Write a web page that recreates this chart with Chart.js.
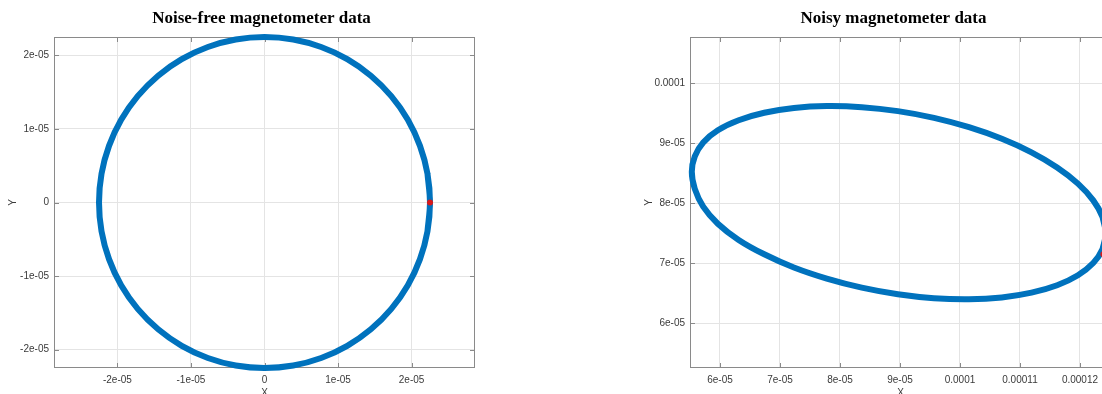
<!DOCTYPE html>
<html>
<head>
<meta charset="utf-8">
<title>Magnetometer data</title>
<script src="https://cdn.jsdelivr.net/npm/chart.js@4.4.0/dist/chart.umd.min.js"></script>
<style>
  html, body { margin: 0; padding: 0; width: 1102px; height: 394px; overflow: hidden; background: #fff; }
  .panel { position: absolute; top: 0; width: 529px; height: 404px; }
  #leftPanel { left: 0; }
  #rightPanel { left: 636px; }
</style>
</head>
<body>
<div class="panel" id="leftPanel"><canvas id="cleanChart"></canvas></div>
<div class="panel" id="rightPanel"><canvas id="noisyChart"></canvas></div>
<script>
// Noise-free samples: field vector traced around the origin (tesla)
const cleanX = [2.25e-5, 2.216e-5, 2.114e-5, 1.949e-5, 1.724e-5, 1.446e-5, 1.125e-5, 0.770e-5, 0.391e-5, 0,
  -0.391e-5, -0.770e-5, -1.125e-5, -1.446e-5, -1.724e-5, -1.949e-5, -2.114e-5, -2.216e-5, -2.25e-5,
  -2.216e-5, -2.114e-5, -1.949e-5, -1.724e-5, -1.446e-5, -1.125e-5, -0.770e-5, -0.391e-5, 0,
  0.391e-5, 0.770e-5, 1.125e-5, 1.446e-5, 1.724e-5, 1.949e-5, 2.114e-5, 2.216e-5];
const cleanY = [0, 0.391e-5, 0.770e-5, 1.125e-5, 1.446e-5, 1.724e-5, 1.949e-5, 2.114e-5, 2.216e-5, 2.25e-5,
  2.216e-5, 2.114e-5, 1.949e-5, 1.724e-5, 1.446e-5, 1.125e-5, 0.770e-5, 0.391e-5, 0,
  -0.391e-5, -0.770e-5, -1.125e-5, -1.446e-5, -1.724e-5, -1.949e-5, -2.114e-5, -2.216e-5, -2.25e-5,
  -2.216e-5, -2.114e-5, -1.949e-5, -1.724e-5, -1.446e-5, -1.125e-5, -0.770e-5, -0.391e-5];
const cleanStartX = [2.25e-5];
const cleanStartY = [0];

// Noisy samples: offset and distorted ellipse (tesla)
const noisyX = [12.430e-5, 12.377e-5, 12.221e-5, 11.966e-5, 11.619e-5, 11.192e-5, 10.698e-5, 10.150e-5, 9.567e-5,
  8.965e-5, 8.364e-5, 7.780e-5, 7.233e-5, 6.738e-5, 6.311e-5, 5.964e-5, 5.720e-5, 5.580e-5, 5.530e-5,
  5.580e-5, 5.720e-5, 5.964e-5, 6.311e-5, 6.738e-5, 7.232e-5, 7.780e-5, 8.363e-5, 8.965e-5, 9.566e-5,
  10.150e-5, 10.697e-5, 11.192e-5, 11.619e-5, 11.966e-5, 12.221e-5, 12.377e-5];
const noisyY = [7.496e-5, 7.769e-5, 8.049e-5, 8.328e-5, 8.597e-5, 8.849e-5, 9.075e-5, 9.268e-5, 9.424e-5,
  9.536e-5, 9.602e-5, 9.620e-5, 9.589e-5, 9.509e-5, 9.385e-5, 9.218e-5, 9.015e-5, 8.781e-5, 8.524e-5,
  8.240e-5, 7.945e-5, 7.660e-5, 7.390e-5, 7.150e-5, 6.930e-5, 6.745e-5, 6.594e-5, 6.484e-5, 6.418e-5,
  6.400e-5, 6.431e-5, 6.511e-5, 6.635e-5, 6.802e-5, 7.005e-5, 7.239e-5];
const noisyStartX = [12.39e-5];
const noisyStartY = [7.15e-5];

// Axis limits and ticks
const cleanRangeX = [-2.862e-5, 2.862e-5];
const cleanRangeY = [-2.25e-5, 2.25e-5];
const cleanTicksX = [-2e-5, -1e-5, 0, 1e-5, 2e-5];
const cleanTickLabelsX = ['-2e-05', '-1e-05', '0', '1e-05', '2e-05'];
const cleanTicksY = [-2e-5, -1e-5, 0, 1e-5, 2e-5];
const cleanTickLabelsY = ['-2e-05', '-1e-05', '0', '1e-05', '2e-05'];

const noisyRangeX = [5.5e-5, 12.517e-5];
const noisyRangeY = [5.255e-5, 10.772e-5];
const noisyTicksX = [6e-5, 7e-5, 8e-5, 9e-5, 1e-4, 1.1e-4, 1.2e-4];
const noisyTickLabelsX = ['6e-05', '7e-05', '8e-05', '9e-05', '0.0001', '0.00011', '0.00012'];
const noisyTicksY = [6e-5, 7e-5, 8e-5, 9e-5, 1e-4];
const noisyTickLabelsY = ['6e-05', '7e-05', '8e-05', '9e-05', '0.0001'];

const BLUE = '#0072BD';
const RED = '#d7191c';
const TICK_FONT = { family: '"Liberation Sans", Arial, sans-serif', size: 10 };
const TEXT_COLOR = '#3a3a3a';

// Closed trace: repeat the neighbours at both ends so the spline joins smoothly
function closedTrace(xs, ys) {
  const pts = xs.map((x, i) => ({ x, y: ys[i] }));
  return [pts[pts.length - 1], ...pts, pts[0], pts[1]];
}
function points(xs, ys) {
  return xs.map((x, i) => ({ x, y: ys[i] }));
}

// Axes box with inward tick marks on all four sides, plus the panel title
const framePlugin = {
  id: 'frame',
  beforeDatasetsDraw(chart) {
    const { ctx, chartArea: a, scales } = chart;
    ctx.save();
    ctx.strokeStyle = '#8a8a8a';
    ctx.lineWidth = 1;
    ctx.strokeRect(a.left + 0.5, a.top + 0.5, a.right - a.left - 1, a.bottom - a.top - 1);
    ctx.beginPath();
    const len = 5;
    scales.x.ticks.forEach(t => {
      const px = Math.round(scales.x.getPixelForValue(t.value)) + 0.5;
      ctx.moveTo(px, a.bottom); ctx.lineTo(px, a.bottom - len);
      ctx.moveTo(px, a.top); ctx.lineTo(px, a.top + len);
    });
    scales.y.ticks.forEach(t => {
      const py = Math.round(scales.y.getPixelForValue(t.value)) + 0.5;
      ctx.moveTo(a.left, py); ctx.lineTo(a.left + len, py);
      ctx.moveTo(a.right, py); ctx.lineTo(a.right - len, py);
    });
    ctx.stroke();
    ctx.restore();
  },
  afterDraw(chart, args, opts) {
    const { ctx, chartArea: a } = chart;
    ctx.save();
    ctx.font = 'bold 17px "Liberation Serif", "Times New Roman", serif';
    ctx.fillStyle = '#000';
    ctx.textAlign = 'center';
    ctx.textBaseline = 'middle';
    ctx.fillText(opts.text, (a.left + a.right) / 2 + (opts.shift || 0), 19);
    ctx.restore();
  }
};

function makeScale(range, ticks, labels, isX) {
  return {
    type: 'linear',
    position: isX ? 'bottom' : 'left',
    min: range[0],
    max: range[1],
    afterBuildTicks: s => { s.ticks = ticks.map(v => ({ value: v })); },
    afterFit: s => { if (isX) s.height = 36; else s.width = 54; },
    ticks: {
      font: TICK_FONT,
      color: TEXT_COLOR,
      padding: isX ? 6 : 5,
      maxRotation: 0,
      autoSkip: false,
      callback: (v, i) => labels[i]
    },
    grid: { color: '#e4e4e4', lineWidth: 1, drawTicks: false },
    border: { display: false },
    title: {
      display: true,
      text: isX ? 'X' : 'Y',
      font: TICK_FONT,
      color: TEXT_COLOR,
      padding: isX ? { top: 0, bottom: 5 } : { top: 7, bottom: 0 }
    }
  };
}

function makeChart(id, title, shift, traceX, traceY, startX, startY, rx, ry, tx, tlx, ty, tly) {
  return new Chart(document.getElementById(id), {
    type: 'scatter',
    data: {
      datasets: [
        {
          label: 'start',
          data: points(startX, startY),
          pointRadius: 3,
          pointBackgroundColor: RED,
          pointBorderWidth: 0,
          showLine: false
        },
        {
          label: 'trace',
          data: closedTrace(traceX, traceY),
          showLine: true,
          borderColor: BLUE,
          borderWidth: 6,
          tension: 0.335,
          pointRadius: 0,
          fill: false,
          clip: 8
        }
      ]
    },
    options: {
      responsive: true,
      maintainAspectRatio: false,
      animation: false,
      layout: { padding: { top: 37, right: 54, left: 0, bottom: 0 } },
      plugins: {
        legend: { display: false },
        tooltip: { enabled: false },
        frame: { text: title, shift: shift }
      },
      scales: {
        x: makeScale(rx, tx, tlx, true),
        y: makeScale(ry, ty, tly, false)
      }
    },
    plugins: [framePlugin]
  });
}

makeChart('cleanChart', 'Noise-free magnetometer data', -3,
  cleanX, cleanY, cleanStartX, cleanStartY, cleanRangeX, cleanRangeY,
  cleanTicksX, cleanTickLabelsX, cleanTicksY, cleanTickLabelsY);

makeChart('noisyChart', 'Noisy magnetometer data', -7,
  noisyX, noisyY, noisyStartX, noisyStartY, noisyRangeX, noisyRangeY,
  noisyTicksX, noisyTickLabelsX, noisyTicksY, noisyTickLabelsY);
</script>
</body>
</html>
